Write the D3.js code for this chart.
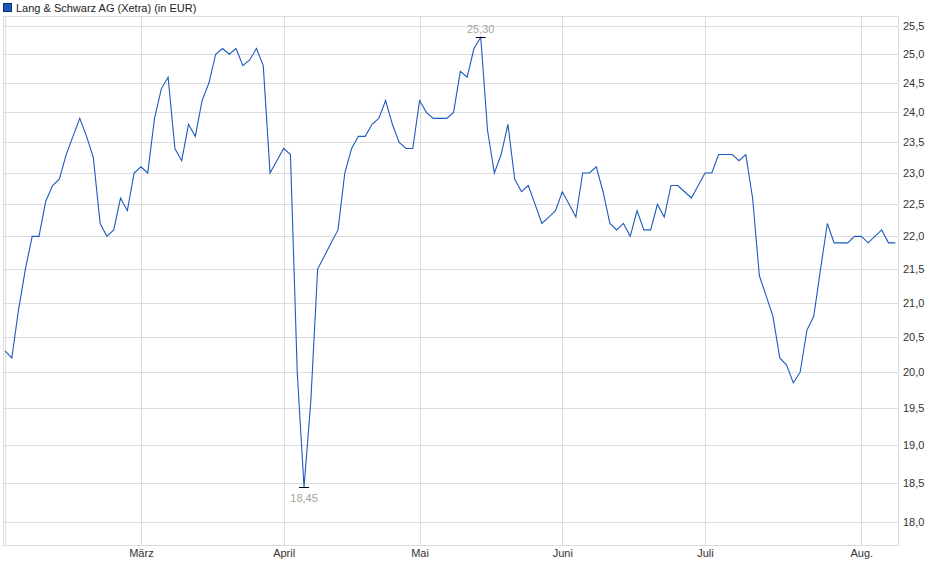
<!DOCTYPE html>
<html>
<head>
    <meta charset="utf-8">
    <title>Lang & Schwarz AG</title>
    <script src="https://d3js.org/d3.v7.min.js"></script>
    <style>
        body { margin: 0; background: #fff; }
        text { font-family: "Liberation Sans", Arial, sans-serif; }
    </style>
</head>
<body>
<div id="chart"></div>
<script>

    // closing prices, one per Xetra trading day (Feb 3 - Aug 8)
    var prices = [
        20.3, 20.2, 20.9, 21.5, 22.0, 22.0, 22.55, 22.8, 22.9, 23.3,
        23.6, 23.9, 23.6, 23.25, 22.2, 22.0, 22.1, 22.6, 22.4, 23.0,
        23.1, 23.0, 23.9, 24.4, 24.6, 23.4, 23.2, 23.8, 23.6, 24.2,
        24.5, 25.0, 25.1, 25.0, 25.1, 24.8, 24.9, 25.1, 24.8, 23.0,
        23.2, 23.4, 23.3, 20.0, 18.45, 19.6, 21.5, 21.7, 21.9, 22.1,
        23.0, 23.4, 23.6, 23.6, 23.8, 23.9, 24.2, 23.8, 23.5, 23.4,
        23.4, 24.2, 24.0, 23.9, 23.9, 23.9, 24.0, 24.7, 24.6, 25.1,
        25.3, 23.7, 23.0, 23.3, 23.8, 22.9, 22.7, 22.8, 22.5, 22.2,
        22.3, 22.4, 22.7, 22.5, 22.3, 23.0, 23.0, 23.1, 22.7, 22.2,
        22.1, 22.2, 22.0, 22.4, 22.1, 22.1, 22.5, 22.3, 22.8, 22.8,
        22.7, 22.6, 22.8, 23.0, 23.0, 23.3, 23.3, 23.3, 23.2, 23.3,
        22.6, 21.4, 21.1, 20.8, 20.2, 20.1, 19.85, 20.0, 20.6, 20.8,
        21.5, 22.2, 21.9, 21.9, 21.9, 22.0, 22.0, 21.9, 22.0, 22.1,
        21.9, 21.9
    ];

    // first trading day of each month (index into prices)
    var monthIndex = [20, 41, 61, 82, 103, 126];
    var monthLabels = ["März", "April", "Mai", "Juni", "Juli", "Aug."];

    var yTicks = [18, 18.5, 19, 19.5, 20, 20.5, 21, 21.5, 22, 22.5, 23, 23.5, 24, 24.5, 25, 25.5];

    var title = "Lang & Schwarz AG (Xetra) (in EUR)";

    var width = 940, height = 579;
    var plot = { left: 3, right: 898, top: 16, bottom: 546 };

    var svg = d3.select("#chart")
        .append("svg")
        .attr("width", width)
        .attr("height", height);

    var x = d3.scaleLinear()
        .domain([0, prices.length - 1])
        .range([5, 895.3]);

    // price axis is logarithmic
    var y = d3.scaleLog()
        .domain([18, 25.5])
        .range([522.3, 26]);

    var fmt = function (v) { return d3.format(".1f")(v).replace(".", ","); };

    // horizontal grid
    svg.append("g")
        .selectAll("line")
        .data(yTicks)
        .enter()
        .append("line")
        .attr("x1", plot.left)
        .attr("x2", plot.right)
        .attr("y1", function (d) { return Math.round(y(d)) + 0.5; })
        .attr("y2", function (d) { return Math.round(y(d)) + 0.5; })
        .attr("stroke", "#dcdcdc");

    // vertical grid at month starts
    svg.append("g")
        .selectAll("line")
        .data(monthIndex)
        .enter()
        .append("line")
        .attr("x1", function (d) { return Math.round(x(d)) + 0.5; })
        .attr("x2", function (d) { return Math.round(x(d)) + 0.5; })
        .attr("y1", plot.top)
        .attr("y2", plot.bottom)
        .attr("stroke", "#dcdcdc");

    // frame
    svg.append("rect")
        .attr("x", plot.left + 0.5)
        .attr("y", plot.top + 0.5)
        .attr("width", plot.right - plot.left)
        .attr("height", plot.bottom - plot.top - 1)
        .attr("fill", "none")
        .attr("stroke", "#dcdcdc");
    svg.append("line")
        .attr("x1", 5.5).attr("x2", 5.5)
        .attr("y1", plot.top).attr("y2", plot.bottom)
        .attr("stroke", "#dcdcdc");

    // y labels on the right
    svg.append("g")
        .selectAll("text")
        .data(yTicks)
        .enter()
        .append("text")
        .attr("x", 903)
        .attr("y", function (d) { return y(d) + 4; })
        .attr("font-size", "11px")
        .attr("fill", "#333")
        .text(fmt);

    // month labels
    svg.append("g")
        .selectAll("text")
        .data(monthIndex)
        .enter()
        .append("text")
        .attr("x", function (d) { return x(d) + 0.5; })
        .attr("y", 557)
        .attr("text-anchor", "middle")
        .attr("font-size", "11px")
        .attr("fill", "#333")
        .text(function (d, i) { return monthLabels[i]; });

    // price line
    svg.append("path")
        .datum(prices)
        .attr("fill", "none")
        .attr("stroke", "#1c5bbd")
        .attr("stroke-width", 1.1)
        .attr("d", d3.line()
            .x(function (d, i) { return x(i); })
            .y(function (d) { return y(d); })
        );

    // high / low markers
    var hi = d3.maxIndex(prices), lo = d3.minIndex(prices);
    [[hi, -1], [lo, 1]].forEach(function (m) {
        var px = x(m[0]), py = Math.round(y(prices[m[0]])) + 0.5;
        svg.append("line")
            .attr("x1", px - 5).attr("x2", px + 5)
            .attr("y1", py).attr("y2", py)
            .attr("stroke", "#000");
        svg.append("text")
            .attr("x", px)
            .attr("y", m[1] < 0 ? py - 5 : py + 14)
            .attr("text-anchor", "middle")
            .attr("font-size", "11px")
            .attr("fill", "#a8a29a")
            .text(d3.format(".2f")(prices[m[0]]).replace(".", ","));
    });

    // legend
    svg.append("rect")
        .attr("x", 3.5).attr("y", 3.5)
        .attr("width", 8).attr("height", 8)
        .attr("fill", "#1c5bbd")
        .attr("stroke", "#0d2f66");
    svg.append("text")
        .attr("x", 16)
        .attr("y", 12)
        .attr("font-size", "11px")
        .attr("fill", "#222")
        .text(title);

</script>
</body>
</html>
